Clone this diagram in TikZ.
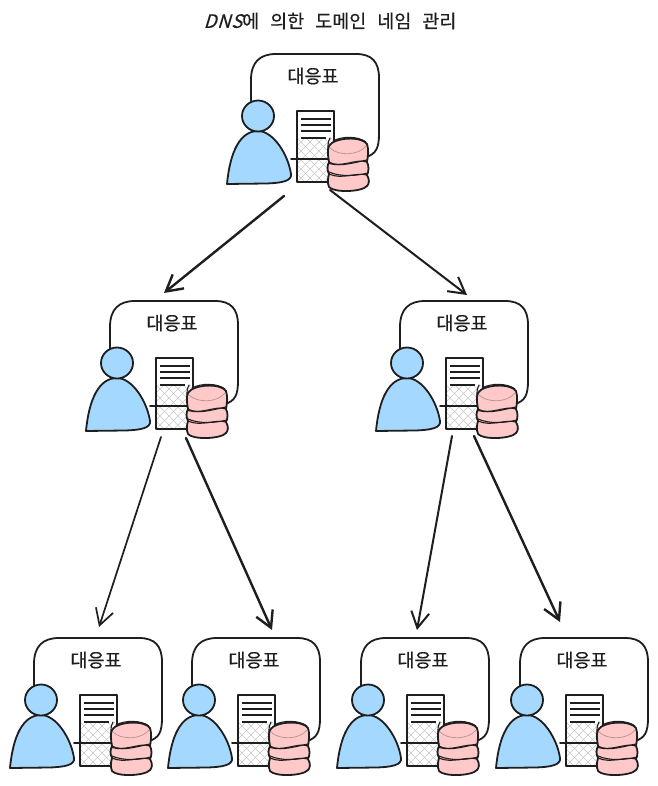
\documentclass[tikz,border=0pt]{standalone}
\usepackage{fontspec}
\setmainfont[FakeBold=0.35]{Noto Sans CJK KR}
\newfontfamily\sketchlatin[FakeSlant=0.3,FakeBold=0.35,LetterSpace=4]{Noto Sans CJK KR}
\usetikzlibrary{arrows.meta}
\definecolor{ink}{HTML}{1E1E1E}
\definecolor{skyfill}{HTML}{A5D8FF}
\definecolor{rosefill}{HTML}{FFC9C9}
\newcommand{\wordgap}{\hspace{11pt}}
\tikzset{
  ink line/.style={draw=ink,line width=1.8pt,line cap=round,line join=round},
  thin ink/.style={draw=ink,line width=1.1pt,line cap=round},
  hatch line/.style={draw=ink!25,line width=0.5pt},
  linkarrow/.style={draw=ink,line width=#1,line cap=round,-{Straight Barb[length=16pt,width=18pt,line width=#1]}},
  linkarrow/.default=1.8pt,
  tabletext/.style={font=\fontsize{18.5}{20}\selectfont,text=ink,inner sep=0pt},
  titletext/.style={font=\fontsize{18.5}{20}\selectfont,text=ink,inner sep=0pt},
  dbunit/.pic={
    % rounded frame
    \draw[ink line] (-7,-14) -- (-7,-36) .. controls (-7,-54) and (2,-62) .. (18,-62)
      -- (98,-62) .. controls (114,-62) and (121,-54) .. (121,-38)
      -- (121,18) .. controls (121,32) and (118,38) .. (108,41);
    \node[tabletext] (-label) at (55,-40) {대응표};
    % server sheet
    \begin{scope}
      \clip (39,22) rectangle (76,66);
      \foreach \k in {-6,...,10} {
        \draw[hatch line] (39+\k*9,22) -- ++(44,44);
        \draw[hatch line] (39+\k*9,66) -- ++(44,-44);
      }
    \end{scope}
    \draw[ink line] (39,-5) rectangle (76,66);
    \foreach \ly in {3,9,15} \draw[draw=ink,line width=1.4pt] (43,\ly) -- (73,\ly);
    \draw[draw=ink,line width=1.4pt] (43,22) -- (68,22);
    % link line
    \draw[ink line] (33,43) -- (72,43);
    % person
    \draw[ink line,fill=skyfill] (-31,68) .. controls (-28,36) and (-18,15) .. (0,15)
      .. controls (15,15) and (30,38) .. (33,58)
      .. controls (34,65) and (24,67) .. (8,67.5) -- cycle;
    \draw[ink line,fill=skyfill] (0,0) ellipse [x radius=16,y radius=15.5];
    % database
    \draw[ink line,fill=rosefill] (71,30) .. controls (76,21) and (104,20) .. (109,28)
      .. controls (111,34) and (110,40) .. (109,46)
      .. controls (111,50) and (111,55) .. (109,59)
      .. controls (112,64) and (111,68) .. (109,70)
      .. controls (104,76) and (76,77) .. (71,71)
      .. controls (69,66) and (70,62) .. (71,58)
      .. controls (69,54) and (69,50) .. (71,46)
      .. controls (70,40) and (69,34) .. (71,30) -- cycle;
    \draw[draw=rosefill!70!ink,line width=0.8pt] (72,32) .. controls (80,40) and (100,40) .. (108,30);
    \draw[thin ink] (71,46) .. controls (82,53) and (98,42) .. (109,46);
    \draw[thin ink] (71,47.5) .. controls (84,51) and (98,46) .. (109,44);
    \draw[thin ink] (71,58) .. controls (84,64) and (98,56) .. (109,59);
    \draw[thin ink] (71,56) .. controls (82,61) and (98,60) .. (110,57);
    \draw[thin ink] (72,22) .. controls (70,26) and (70,28) .. (70,32);
    \draw[thin ink] (75,25) .. controls (84,20) and (100,20) .. (108,26);
  }
}
\begin{document}
\begin{tikzpicture}[x=1pt,y=-1pt]
  \useasboundingbox (0,0) rectangle (657,786);
  \fill[white] (0,0) rectangle (657,786);
  \node[titletext] (title) at (330,21) {{\sketchlatin DNS}에\wordgap 의한\wordgap 도메인\wordgap 네임\wordgap 관리};

  \pic (root) at (258,116) {dbunit};
  \pic (midL) at (117,363) {dbunit};
  \pic (midR) at (407,363) {dbunit};
  \pic (leafA) at (41,700) {dbunit};
  \pic (leafB) at (199,700) {dbunit};
  \pic (leafC) at (368,700) {dbunit};
  \pic (leafD) at (527,700) {dbunit};

  \coordinate (rootOutL) at (284,196);
  \coordinate (rootOutR) at (330,190);
  \coordinate (midLIn) at (164,293);
  \coordinate (midRIn) at (467,295);
  \coordinate (midLOutL) at (161,437);
  \coordinate (midLOutR) at (186,438);
  \coordinate (midROutL) at (452,436);
  \coordinate (midROutR) at (474,436);
  \coordinate (leafAIn) at (99,627);
  \coordinate (leafBIn) at (272,630);
  \coordinate (leafCIn) at (417,630);
  \coordinate (leafDIn) at (560,622);

  \draw[linkarrow=2.4pt] (rootOutL) -- (midLIn);
  \draw[linkarrow=2pt] (rootOutR) -- (midRIn);
  \draw[linkarrow=1.7pt] (midLOutL) -- (leafAIn);
  \draw[linkarrow=2.4pt] (midLOutR) -- (leafBIn);
  \draw[linkarrow=2pt] (midROutL) -- (leafCIn);
  \draw[linkarrow=2.4pt] (midROutR) -- (leafDIn);
\end{tikzpicture}
\end{document}
